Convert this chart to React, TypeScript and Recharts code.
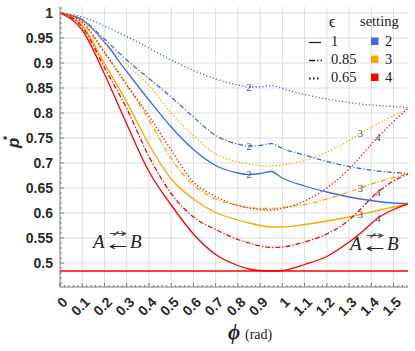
import React from 'react';
import { ComposedChart, Line, XAxis, YAxis, ReferenceLine } from 'recharts';

// ---------------- data ----------------
const phi = [0, 0.1, 0.2, 0.3, 0.4, 0.5, 0.6, 0.7, 0.8, 0.85, 0.9, 0.95, 1.0, 1.1, 1.2, 1.3, 1.35, 1.43, 1.5, 1.5708];

// setting 2 (blue)
const s2e100 = [1, 0.986, 0.942, 0.883, 0.826, 0.772, 0.727, 0.695, 0.68, 0.677, 0.679, 0.683, 0.67, 0.654, 0.642, 0.632, 0.628, 0.623, 0.62, 0.619];
const s2e085 = [1, 0.987, 0.948, 0.906, 0.869, 0.832, 0.792, 0.755, 0.738, 0.734, 0.735, 0.739, 0.729, 0.716, 0.703, 0.693, 0.689, 0.684, 0.681, 0.679];
const s2e065 = [1, 0.992, 0.974, 0.953, 0.93, 0.906, 0.885, 0.868, 0.856, 0.852, 0.852, 0.855, 0.849, 0.837, 0.828, 0.821, 0.818, 0.815, 0.813, 0.811];
// setting 3 (orange)
const s3e100 = [1, 0.975, 0.899, 0.822, 0.737, 0.668, 0.628, 0.601, 0.586, 0.58, 0.575, 0.572, 0.572, 0.577, 0.584, 0.592, 0.597, 0.605, 0.612, 0.619];
const s3e085 = [1, 0.98, 0.92, 0.856, 0.786, 0.709, 0.656, 0.628, 0.615, 0.611, 0.609, 0.609, 0.611, 0.617, 0.628, 0.642, 0.65, 0.662, 0.671, 0.679];
const s3e065 = [1, 0.988, 0.943, 0.897, 0.855, 0.8, 0.755, 0.718, 0.702, 0.698, 0.695, 0.694, 0.696, 0.705, 0.722, 0.745, 0.759, 0.778, 0.795, 0.811];
// setting 4 (red)
const s4e100 = [1, 0.966, 0.878, 0.778, 0.683, 0.616, 0.558, 0.517, 0.495, 0.488, 0.485, 0.484, 0.485, 0.497, 0.513, 0.542, 0.559, 0.59, 0.607, 0.619];
const s4e085 = [1, 0.972, 0.891, 0.809, 0.713, 0.639, 0.592, 0.567, 0.547, 0.54, 0.534, 0.531, 0.532, 0.542, 0.558, 0.586, 0.607, 0.642, 0.664, 0.679];
const s4e065 = [1, 0.982, 0.922, 0.857, 0.794, 0.726, 0.662, 0.633, 0.615, 0.61, 0.607, 0.606, 0.609, 0.624, 0.65, 0.688, 0.712, 0.752, 0.783, 0.811];

const floorValue = 0.484;

const xMajorTicks = [0, 0.1, 0.2, 0.3, 0.4, 0.5, 0.6, 0.7, 0.8, 0.9, 1, 1.1, 1.2, 1.3, 1.4, 1.5];
const xTickLabels = ['0', '0.1', '0.2', '0.3', '0.4', '0.5', '0.6', '0.7', '0.8', '0.9', '1', '1.1', '1.2', '1.3', '1.4', '1.5'];
const yMajorTicks = [0.5, 0.55, 0.6, 0.65, 0.7, 0.75, 0.8, 0.85, 0.9, 0.95, 1];
const yTickLabels = ['0.5', '0.55', '0.6', '0.65', '0.7', '0.75', '0.8', '0.85', '0.9', '0.95', '1'];

const legendEpsilons = ['1', '0.85', '0.65'];
const legendSettings = ['2', '3', '4'];

// ---------------- styles ----------------
const BLUE = '#4169E1';
const ORANGE = '#FFA500';
const RED = '#FF0000';
const DASH_DOT = '5 2 1.2 2';
const DOTTED = '1.2 2.2';

const series = [
  { key: 's2e065', values: s2e065, color: BLUE, dash: DOTTED, label: '2', labelIndex: 9 },
  { key: 's2e085', values: s2e085, color: BLUE, dash: DASH_DOT, label: '2', labelIndex: 9 },
  { key: 's2e100', values: s2e100, color: BLUE, dash: undefined, label: '2', labelIndex: 9 },
  { key: 's3e065', values: s3e065, color: ORANGE, dash: DOTTED, label: '3', labelIndex: 16 },
  { key: 's3e085', values: s3e085, color: ORANGE, dash: DASH_DOT, label: '3', labelIndex: 16 },
  { key: 's3e100', values: s3e100, color: ORANGE, dash: undefined, label: '3', labelIndex: 16 },
  { key: 's4e065', values: s4e065, color: RED, dash: DOTTED, label: '4', labelIndex: 17 },
  { key: 's4e085', values: s4e085, color: RED, dash: DASH_DOT, label: '4', labelIndex: 17 },
  { key: 's4e100', values: s4e100, color: RED, dash: undefined, label: '4', labelIndex: 17 },
];

const rows = phi.map((p, i) => {
  const r: any = { phi: p };
  series.forEach((s) => { r[s.key] = s.values[i]; });
  return r;
});

const W = 415;
const H = 351;
const X_DOMAIN: [number, number] = [0, 1.565];
const Y_DOMAIN: [number, number] = [0.452, 1.012];
const FRAME = '#7a7a7a';
const GRID = '#dedede';
const TICK_FONT = 'Liberation Sans';
const SERIF = 'Liberation Serif';
const ARROW_FONT = 'DejaVu Sans';

const xAllTicks = Array.from({ length: 79 }, (_, k) => Number((k * 0.02).toFixed(2)));
const yAllTicks = Array.from({ length: 56 }, (_, k) => Number(((46 + k) / 100).toFixed(2)));

const near = (a: number, b: number) => Math.abs(a - b) < 1e-6;
const xLabelFor = (v: number) => {
  const i = xMajorTicks.findIndex((t) => near(t, v));
  return i >= 0 ? xTickLabels[i] : null;
};
const yLabelFor = (v: number) => {
  const i = yMajorTicks.findIndex((t) => near(t, v));
  return i >= 0 ? yTickLabels[i] : null;
};

const BottomTick = (p: any) => {
  const { x, y, payload } = p;
  const lab = xLabelFor(payload.value);
  return (
    <g>
      <line x1={x} x2={x} y1={y} y2={y - (lab !== null ? 4 : 2)} stroke={FRAME} />
      {lab !== null && (
        <text transform={`translate(${x + 8.5},${y + 16}) rotate(-45)`} textAnchor="end"
          fontFamily={TICK_FONT} fontWeight={700} fontSize={14} fill="#2a2a2a">{lab}</text>
      )}
    </g>
  );
};
const TopTick = (p: any) => {
  const { x, y, payload } = p;
  const major = xLabelFor(payload.value) !== null;
  return <line x1={x} x2={x} y1={y} y2={y + (major ? 4 : 2)} stroke={FRAME} />;
};
const LeftTick = (p: any) => {
  const { x, y, payload } = p;
  const lab = yLabelFor(payload.value);
  return (
    <g>
      <line x1={x} x2={x + (lab !== null ? 4 : 2)} y1={y} y2={y} stroke={FRAME} />
      {lab !== null && (
        <text x={x - 7} y={y + 5} textAnchor="end" fontFamily={TICK_FONT} fontWeight={700} fontSize={14} fill="#2a2a2a">{lab}</text>
      )}
    </g>
  );
};
const RightTick = (p: any) => {
  const { x, y, payload } = p;
  const major = yLabelFor(payload.value) !== null;
  return <line x1={x} x2={x - (major ? 4 : 2)} y1={y} y2={y} stroke={FRAME} />;
};

const makeCurveLabel = (text: string, idx: number) => (props: any) => {
  if (props.index !== idx) return <g key={`e${props.index}`} />;
  return (
    <text key={`t${props.index}`} x={props.x} y={props.y} dy={3.5} textAnchor="middle"
      fontFamily={SERIF} fontSize={11} fill="#555">{text}</text>
  );
};

const Annotation = ({ x, y }: { x: number; y: number }) => (
  <g>
    <text x={x} y={y} fontFamily={SERIF} fontStyle="italic" fontSize={19} fill="#222">A</text>
    <text x={x + 15} y={y - 10.7} fontFamily={ARROW_FONT} fontSize={11} fill="#444"
      textLength={19} lengthAdjust="spacingAndGlyphs">↛</text>
    <text x={x + 15} y={y + 2.3} fontFamily={ARROW_FONT} fontSize={11} fill="#222"
      textLength={19} lengthAdjust="spacingAndGlyphs">←</text>
    <text x={x + 37} y={y} fontFamily={SERIF} fontStyle="italic" fontSize={19} fill="#222">B</text>
  </g>
);

const legendColors = [BLUE, ORANGE, RED];
const legendDashes = [undefined, '6 2 1.5 2', '1.6 2.4'];

export default function App() {
  return (
    <div style={{ position: 'absolute', left: 0, top: 0, width: W, height: H, background: '#fff' }}>
      <ComposedChart width={W} height={H} data={rows} margin={{ top: 7, right: 7, bottom: 0, left: 0 }}>
        <XAxis dataKey="phi" type="number" domain={X_DOMAIN} allowDataOverflow ticks={xAllTicks} interval={0}
          height={64} tickLine={false} tickSize={0} tickMargin={0} tick={<BottomTick />}
          axisLine={{ stroke: FRAME }} />
        <XAxis xAxisId="top" orientation="top" type="number" domain={X_DOMAIN} allowDataOverflow ticks={xAllTicks}
          interval={0} height={0} tickLine={false} tickSize={0} tickMargin={0} tick={<TopTick />}
          axisLine={{ stroke: FRAME }} />
        <YAxis type="number" domain={Y_DOMAIN} allowDataOverflow ticks={yAllTicks} interval={0} width={60}
          tickLine={false} tickSize={0} tickMargin={0} tick={<LeftTick />} axisLine={{ stroke: FRAME }} />
        <YAxis yAxisId="right" orientation="right" type="number" domain={Y_DOMAIN} allowDataOverflow ticks={yAllTicks}
          interval={0} width={0} tickLine={false} tickSize={0} tickMargin={0} tick={<RightTick />}
          axisLine={{ stroke: FRAME }} />
        {xMajorTicks.filter((t) => t > 0).map((t) => (
          <ReferenceLine key={`vx${t}`} x={t} stroke={GRID} strokeWidth={1} />
        ))}
        {yMajorTicks.map((t) => (
          <ReferenceLine key={`hy${t}`} y={t} stroke={GRID} strokeWidth={1} />
        ))}
        <ReferenceLine y={floorValue} stroke={RED} strokeWidth={1.5} />
        {series.map((s) => (
          <Line key={s.key} dataKey={s.key} type="monotone" stroke={s.color} strokeWidth={1.3}
            strokeDasharray={s.dash} dot={false} activeDot={false} isAnimationActive={false}
            label={makeCurveLabel(s.label, s.labelIndex)} />
        ))}
      </ComposedChart>
      <svg width={W} height={H} style={{ position: 'absolute', left: 0, top: 0, pointerEvents: 'none' }}>
        {/* y-axis label */}
        <text transform="translate(18.5,148) rotate(-90)" fontFamily={TICK_FONT} fontWeight={700}
          fontStyle="italic" fontSize={17} fill="#2a2a2a">
          p<tspan fontSize={11} dy={-8} dx={-3}>*</tspan>
        </text>
        {/* x-axis label */}
        <text x={228} y={339} fontFamily={SERIF} fontWeight={700} fontStyle="italic" fontSize={21} fill="#222">ϕ</text>
        <text x={245} y={339} fontFamily={SERIF} fontSize={14} fill="#222">(rad)</text>
        {/* legend */}
        <text x={329} y={27} fontFamily={SERIF} fontSize={16} fill="#222">ϵ</text>
        <text x={360} y={26} fontFamily={SERIF} fontSize={14.5} fill="#222">setting</text>
        {legendEpsilons.map((e, i) => (
          <g key={`le${e}`}>
            <line x1={309} x2={i === 1 ? 322 : 321} y1={42.5 + i * 18} y2={42.5 + i * 18} stroke="#222"
              strokeWidth={i === 2 ? 1.8 : 1.3} strokeDasharray={legendDashes[i]} />
            <text x={331} y={46 + i * 18} fontFamily={SERIF} fontSize={14.5} fill="#222">{e}</text>
          </g>
        ))}
        {legendSettings.map((s, i) => (
          <g key={`ls${s}`}>
            <rect x={371} y={37.5 + i * 18} width={7.5} height={7.5} fill={legendColors[i]} />
            <text x={385} y={46 + i * 18} fontFamily={SERIF} fontSize={14.5} fill="#222">{s}</text>
          </g>
        ))}
        {/* annotations */}
        <Annotation x={93} y={248} />
        <Annotation x={350} y={250} />
      </svg>
    </div>
  );
}
